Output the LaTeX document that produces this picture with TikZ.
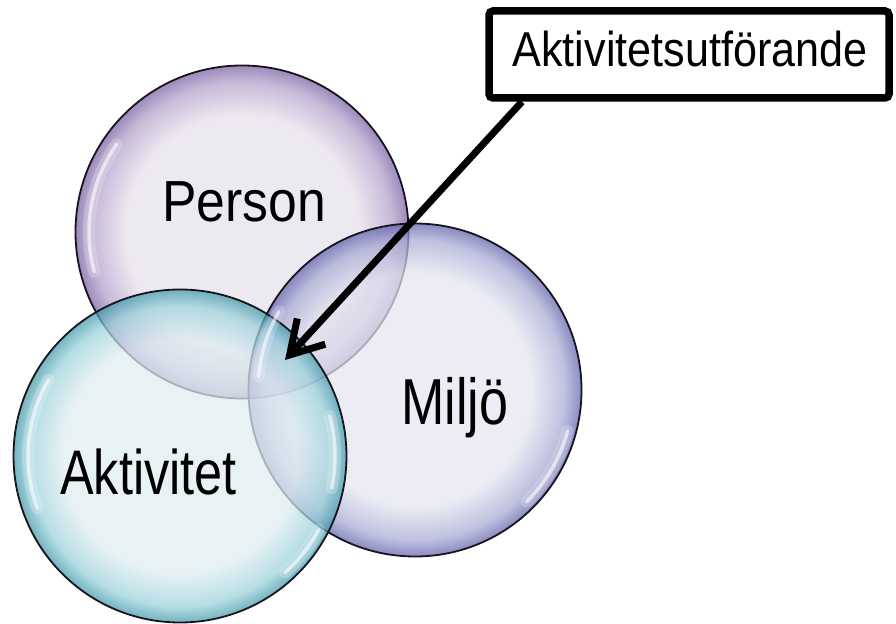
\documentclass[tikz,border=0pt]{standalone}
\usepackage{fontspec}
\setmainfont{Liberation Sans}
\usetikzlibrary{arrows.meta,calc}

% bubble colours (inner tint, rim tint, outer edge)
\definecolor{pIn}{RGB}{231,225,236}
\definecolor{pRim}{RGB}{178,160,202}
\definecolor{pEdge}{RGB}{118,94,162}
\definecolor{mIn}{RGB}{228,229,241}
\definecolor{mRim}{RGB}{168,170,212}
\definecolor{mEdge}{RGB}{92,96,170}
\definecolor{aIn}{RGB}{224,238,242}
\definecolor{aRim}{RGB}{156,210,220}
\definecolor{aEdge}{RGB}{62,152,168}
\definecolor{outline}{RGB}{24,20,30}

\pgfdeclareradialshading{bubbleP}{\pgfpoint{0bp}{0bp}}{color(0bp)=(pIn); color(17.5bp)=(pIn); color(22.5bp)=(pRim); color(25bp)=(pEdge); color(50bp)=(pEdge)}
\pgfdeclareradialshading{bubbleM}{\pgfpoint{0bp}{0bp}}{color(0bp)=(mIn); color(17.5bp)=(mIn); color(22.5bp)=(mRim); color(25bp)=(mEdge); color(50bp)=(mEdge)}
\pgfdeclareradialshading{bubbleA}{\pgfpoint{0bp}{0bp}}{color(0bp)=(aIn); color(17.5bp)=(aIn); color(22.5bp)=(aRim); color(25bp)=(aEdge); color(50bp)=(aEdge)}

\begin{document}
\begin{tikzpicture}[x=1pt,y=1pt,
  bubble/.style={circle, minimum size=333pt, inner sep=0pt, draw=outline,
    line width=1.8pt, fill opacity=0.72, draw opacity=1},
  glow/.style={draw=white, line cap=round, line width=12pt, draw opacity=0.22},
  shine/.style={draw=white, line cap=round, line width=3.5pt, draw opacity=0.6},
  lbl/.style={anchor=base, inner sep=0pt, text=black},
  callout/.style={draw=black, line width=7.5pt, rounded corners=4pt, fill=white,
    minimum width=400pt, minimum height=87pt, inner sep=0pt},
  pointer/.style={draw=black, line width=7pt,
    -{Straight Barb[length=32pt,width=38pt]}}
]
\fill[white] (0,0) rectangle (896,623);

% the three overlapping bubbles
\node[bubble, shading=bubbleP] (person) at (242,391) {};
\node[bubble, shading=bubbleM] (miljo) at (415,233) {};
\node[bubble, shading=bubbleA] (aktivitet) at (180,167) {};

% glossy highlights on the bubble rims
\foreach \c/\a/\b/\r in {person/145/195/153, miljo/-45/-15/158, miljo/150/175/157,
                         aktivitet/150/200/152, aktivitet/-48/-28/157, aktivitet/-12/15/155}{
  \draw[glow] ([shift={(\a:\r pt)}]\c.center) arc[start angle=\a, end angle=\b, radius=\r pt];
  \draw[shine] ([shift={(\a:\r pt)}]\c.center) arc[start angle=\a, end angle=\b, radius=\r pt];
}

% labels
\node[lbl, font=\fontsize{58}{58}\selectfont, xscale=0.89] (tperson) at (244,401.3) {Person};
\node[lbl, font=\fontsize{63}{63}\selectfont, xscale=0.80] (taktivitet) at (148.5,128) {Aktivitet};
\node[lbl, font=\fontsize{65}{65}\selectfont, xscale=0.80] (tmiljo) at (455,198) {Miljö};

% callout box and its pointer into the common overlap
\coordinate (tip) at (285,263);
\node[callout] (box) at (689,568.5) {};
\draw[pointer] ($(box.south west)!0.09!(box.south east)$) -- (tip);
\node[lbl, font=\fontsize{49}{49}\selectfont, xscale=0.88] (tbox) at (690,556.3) {Aktivitetsutförande};
\end{tikzpicture}
\end{document}
